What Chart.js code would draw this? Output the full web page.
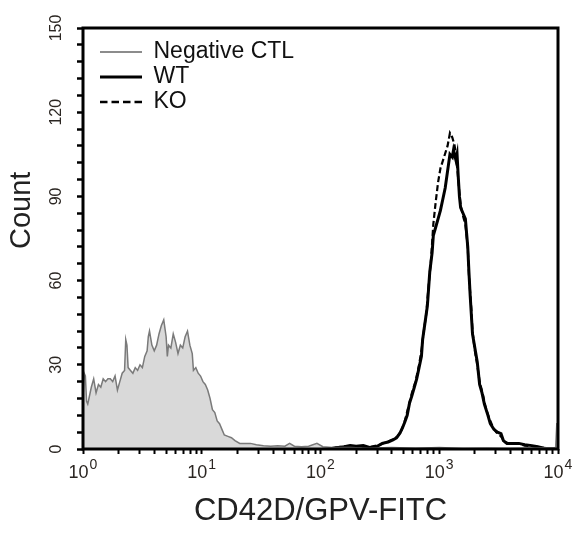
<!DOCTYPE html>
<html>
<head>
<meta charset="utf-8">
<script src="https://cdn.jsdelivr.net/npm/chart.js@4"></script>
<style>
  body { margin: 0; background: #fff; }
</style>
</head>
<body>
<canvas id="myChart" width="583" height="533"></canvas>
<script>
// channel positions are typed as log10(fluorescence)
const ctlLog = [0.00,0.01,0.02,0.03,0.04,0.05,0.07,0.09,0.11,0.13,0.15,0.17,0.19,0.21,0.23,0.25,0.27,0.29,0.31,0.33,
  0.35,0.36,0.37,0.38,0.40,0.42,0.44,0.46,0.48,0.50,0.52,0.54,0.55,0.56,0.58,0.60,0.62,0.64,0.66,0.68,
  0.70,0.71,0.72,0.74,0.76,0.78,0.80,0.82,0.84,0.86,0.88,0.90,0.92,0.93,0.95,0.97,0.99,1.01,1.03,1.05,
  1.07,1.09,1.11,1.13,1.15,1.17,1.19,1.22,1.25,1.28,1.32,1.36,1.41,1.46,1.52,1.58,1.64,1.70,1.74,1.78,
  1.84,1.90,1.97,2.02,2.10,2.25,2.40,2.60,2.80,3.00,3.20,3.40,3.60,3.80,3.98,3.99,4.00];
const ctlCount = [18,27,26,17,16,18,22,25,20,23,22,25,24,25,25,24,26,21,24,27,
  28,39,37,29,28,27,29,28,30,29,33,35,40,42,37,35,37,41,44,46,
  40,33,37,36,41,38,34,37,36,40,42,37,34,28,29,27,26,24,23,21,
  18,14,13,10,9,7,5,4.5,4,3,2,2,2,1.5,1.2,1,1.2,1,2,1,
  0.8,1,2,0.8,0.5,0.5,0.3,0.5,0.3,0.5,0.2,0.3,0.2,0.4,0.5,9,9];

const wtLog = [2.10,2.20,2.25,2.30,2.36,2.42,2.47,2.52,2.57,2.61,2.64,2.67,2.69,2.71,2.73,2.75,2.77,2.79,2.81,2.83,
  2.85,2.86,2.88,2.90,2.91,2.92,2.94,2.95,2.97,2.99,3.01,3.03,3.05,3.07,3.09,3.11,3.12,3.14,3.15,3.16,
  3.17,3.18,3.20,3.22,3.23,3.24,3.25,3.26,3.27,3.28,3.30,3.32,3.34,3.36,3.38,3.41,3.43,3.46,3.49,3.52,
  3.54,3.57,3.62,3.67,3.72,3.78,3.83,3.88,3.95];
const wtCount = [0.3,0.8,1.2,1,1.2,0.5,0.8,2,2.5,3.2,4,5.7,7.5,9.6,12,16.4,19,22,25,29,
  33,39,45,51,57,63,70,76,79,82,85,89,93,99,105,104,106.5,103,105,97,
  90,86,84,82,77,72,63,55,48,41,36,31,23,20,16,12,9,7,6,5.5,
  3,2,2,2,1.5,1.2,0.8,0.3,0.2];

const koLog = [2.12,2.22,2.30,2.40,2.50,2.56,2.61,2.65,2.68,2.71,2.74,2.77,2.80,2.83,2.85,2.87,2.89,2.91,2.93,2.95,
  2.97,2.99,3.01,3.04,3.07,3.09,3.11,3.13,3.15,3.17,3.18,3.20,3.22,3.24,3.25,3.27,3.28,3.30,3.32,3.34,
  3.37,3.39,3.42,3.45,3.48,3.52,3.55,3.60,3.66,3.72,3.80,3.86,3.95];
const koCount = [0.5,1,0.8,0.6,1.5,2.5,3.5,4.5,6.5,10,15,20,24,30,35,42,48,58,67,80,
  88,95,100,104,108,112.6,111,108,101,91,87,83,80,72,62,50,42,35,30,24,
  19,15,11,8,6,4.5,2.5,1.8,2,1.2,1,0.5,0.2];

const seriesNames = ["Negative CTL", "WT", "KO"];
const xTickSteps = [1,2,3,4,5,6,7,8,9];
const xDecades = [1,10,100,1000,10000];

const toPoints = (logs, counts) => logs.map((l, i) => ({ x: Math.pow(10, l), y: counts[i] }));

const xTicks = [];
xDecades.slice(0, 4).forEach(d => xTickSteps.forEach(s => xTicks.push(d * s)));
xTicks.push(10000);

const font = "'Liberation Sans', Arial, sans-serif";

// little line samples for the legend
function lineSample(color, width, dash) {
  const c = document.createElement('canvas');
  c.width = 42; c.height = 8;
  const g = c.getContext('2d');
  g.strokeStyle = color;
  g.lineWidth = width;
  g.setLineDash(dash);
  g.beginPath(); g.moveTo(0, 4); g.lineTo(42, 4); g.stroke();
  return c;
}
const legendSamples = [
  lineSample('#8c8c8c', 2, []),
  lineSample('#000', 3, []),
  lineSample('#000', 2.5, [7.5, 4])
];

const frame = {
  id: 'frame',
  afterLayout(chart) {
    // legend box inside the plot, top-left
    chart.legend.left = 98;
    chart.legend.top = 38.5;
  },
  afterDatasetsDraw(chart) {
    const a = chart.chartArea, c = chart.ctx;
    c.save();
    c.strokeStyle = '#000';
    c.lineWidth = 3;
    c.strokeRect(a.left, a.top, a.right - a.left, a.bottom - a.top);
    c.restore();
  },
  afterDraw(chart) {
    // 10^n labels with a real superscript
    const s = chart.scales.x, c = chart.ctx;
    c.save();
    c.fillStyle = '#2b2622';
    c.textBaseline = 'alphabetic';
    c.textAlign = 'left';
    xDecades.forEach((v, e) => {
      const x = s.getPixelForValue(v);
      c.font = '18px ' + font;
      const wb = c.measureText('10').width;
      c.font = '14px ' + font;
      const we = c.measureText(String(e)).width;
      const left = x - (wb + 1 + we) / 2;
      c.font = '18px ' + font;
      c.fillText('10', left, 478);
      c.font = '14px ' + font;
      c.fillText(String(e), left + wb + 1, 469);
    });
    c.restore();
  }
};

const ctx = document.getElementById('myChart').getContext('2d');
new Chart(ctx, {
  type: 'line',
  data: {
    datasets: [{
      label: seriesNames[0],
      data: toPoints(ctlLog, ctlCount),
      borderColor: '#7a7a7a',
      borderWidth: 1.5,
      backgroundColor: '#d9d9d9',
      fill: 'origin',
      pointRadius: 0,
      tension: 0
    }, {
      label: seriesNames[1],
      data: toPoints(wtLog, wtCount),
      borderColor: '#000',
      borderWidth: 3,
      fill: false,
      pointRadius: 0,
      tension: 0
    }, {
      label: seriesNames[2],
      data: toPoints(koLog, koCount),
      borderColor: '#000',
      borderWidth: 2.2,
      borderDash: [6, 3],
      fill: false,
      pointRadius: 0,
      tension: 0
    }]
  },
  options: {
    responsive: false,
    animation: false,
    layout: { padding: { left: 0, right: 25, top: 28, bottom: 0 } },
    plugins: {
      tooltip: { enabled: false },
      legend: {
        position: 'chartArea',
        align: 'start',
        labels: {
          usePointStyle: true,
          pointStyleWidth: 42,
          padding: 2,
          color: '#111',
          font: { family: font, size: 23 },
          generateLabels: chart => Chart.defaults.plugins.legend.labels.generateLabels(chart)
            .map((item, i) => Object.assign(item, { pointStyle: legendSamples[i] }))
        }
      }
    },
    scales: {
      x: {
        type: 'logarithmic',
        min: 1,
        max: 10000,
        afterFit: s => { s.height = 84; },
        afterBuildTicks: s => { s.ticks = xTicks.map(v => ({ value: v })); },
        border: { display: false },
        grid: { drawOnChartArea: false, drawTicks: true, tickLength: 5, tickWidth: 2, tickColor: '#000' },
        ticks: { display: false, autoSkip: false },
        title: {
          display: true,
          text: 'CD42D/GPV-FITC',
          color: '#222',
          font: { family: font, size: 31 },
          padding: { top: 0, bottom: 3 }
        }
      },
      y: {
        min: 0,
        max: 150,
        afterFit: s => { s.width = 83; },
        border: { display: false },
        grid: { drawOnChartArea: false, drawTicks: true, tickLength: 6, tickWidth: 2.5, tickColor: '#000' },
        ticks: {
          stepSize: 6,
          autoSkip: false,
          minRotation: 90,
          maxRotation: 90,
          crossAlign: 'center',
          padding: 7,
          color: '#2b2622',
          font: { family: font, size: 16 },
          callback: v => (v % 30 === 0 ? v : '')
        },
        title: {
          display: true,
          text: '       Count',
          color: '#222',
          font: { family: font, size: 29 },
          padding: { top: 5, bottom: 0 }
        }
      }
    }
  },
  plugins: [frame]
});
</script>
</body>
</html>
